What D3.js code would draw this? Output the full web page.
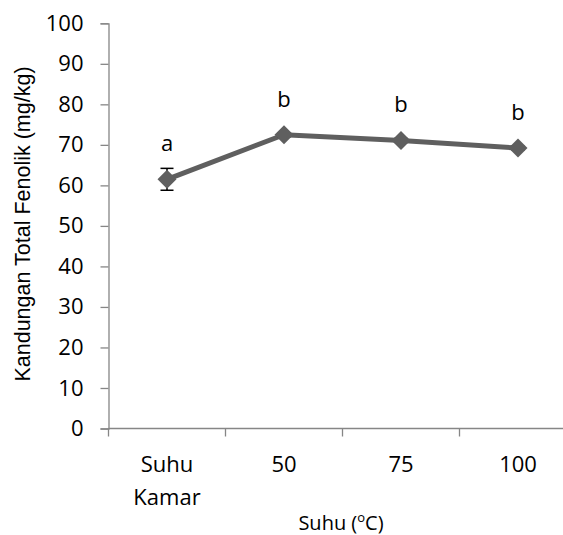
<!DOCTYPE html>
<html>
<head>
<meta charset="utf-8">
<script src="https://cdn.jsdelivr.net/npm/d3@7"></script>
<style>
	body { margin: 0; background: #fff; }
	svg { display: block; }
</style>
</head>
<body>
<svg id="chart" width="563" height="535"></svg>
<script>
const categories = ['Suhu Kamar', '50', '75', '100'];
const values = [61.5, 72.5, 71.1, 69.2];
const errors = [2.7, 0.5, 0.5, 0.5];
const letters = ['a', 'b', 'b', 'b'];
const yTicks = [0, 10, 20, 30, 40, 50, 60, 70, 80, 90, 100];

const svg = d3.select('#chart');
const tickFont = '"Open Sans", sans-serif';

// scales
let x = d3.scaleBand()
	.domain(categories)
	.range([108.5, 576.5]);

let y = d3.scaleLinear()
	.domain([0, 100])
	.range([428.5, 23.3]);

const axisColor = '#868686';
const lineColor = '#5f5f5f';

// Y axis
let yAxis = svg.append('g')
	.attr('transform', 'translate(108.5,0)')
	.call(d3.axisLeft(y).tickValues(yTicks).tickSize(8).tickPadding(17));
yAxis.select('.domain').attr('stroke', axisColor).attr('stroke-width', 1.3);
yAxis.selectAll('.tick line').attr('stroke', axisColor).attr('stroke-width', 1.3);
yAxis.selectAll('.tick text')
	.attr('font-family', tickFont)
	.attr('font-size', 22)
	.attr('fill', '#000');

// X axis, ticks at category boundaries
let boundaries = categories.map(c => x(c));
svg.append('line')
	.attr('x1', 108.5).attr('x2', 576.5)
	.attr('y1', y(0)).attr('y2', y(0))
	.attr('stroke', axisColor).attr('stroke-width', 1.3);
svg.selectAll('.xtick')
	.data(boundaries)
	.enter()
	.append('line')
	.attr('class', 'xtick')
	.attr('x1', d => d).attr('x2', d => d)
	.attr('y1', y(0)).attr('y2', y(0) + 8)
	.attr('stroke', axisColor).attr('stroke-width', 1.3);

// x labels (wrapped)
let xLabels = svg.selectAll('.xlabel')
	.data(categories)
	.enter()
	.append('text')
	.attr('class', 'xlabel')
	.attr('text-anchor', 'middle')
	.attr('font-family', tickFont)
	.attr('font-size', 22)
	.attr('y', 472);
xLabels.each(function(d) {
	let words = d.split(' ');
	let cx = x(d) + x.bandwidth() / 2;
	d3.select(this).selectAll('tspan')
		.data(words)
		.enter()
		.append('tspan')
		.attr('x', cx)
		.attr('dy', (w, i) => i === 0 ? 0 : 33)
		.text(w => w);
});

// line
let line = d3.line()
	.x((d, i) => x(categories[i]) + x.bandwidth() / 2)
	.y(d => y(d));

svg.append('path')
	.datum(values)
	.attr('d', line)
	.attr('fill', 'none')
	.attr('stroke', lineColor)
	.attr('stroke-width', 5)
	.attr('stroke-linejoin', 'round');

// error bars
let eb = svg.selectAll('.err')
	.data(values)
	.enter()
	.append('g')
	.attr('class', 'err');
eb.append('line')
	.attr('x1', (d, i) => x(categories[i]) + x.bandwidth() / 2)
	.attr('x2', (d, i) => x(categories[i]) + x.bandwidth() / 2)
	.attr('y1', (d, i) => y(d + errors[i]))
	.attr('y2', (d, i) => y(d - errors[i]))
	.attr('stroke', '#000').attr('stroke-width', 1.5);
eb.selectAll('.cap')
	.data((d, i) => [d + errors[i], d - errors[i]].map(v => ({v, i})))
	.enter()
	.append('line')
	.attr('x1', d => x(categories[d.i]) + x.bandwidth() / 2 - 6.5)
	.attr('x2', d => x(categories[d.i]) + x.bandwidth() / 2 + 6.5)
	.attr('y1', d => y(d.v))
	.attr('y2', d => y(d.v))
	.attr('stroke', '#000').attr('stroke-width', 1.5);

// markers
svg.selectAll('.marker')
	.data(values)
	.enter()
	.append('path')
	.attr('class', 'marker')
	.attr('d', 'M0,-9.5L9.5,0L0,9.5L-9.5,0Z')
	.attr('transform', (d, i) => `translate(${x(categories[i]) + x.bandwidth() / 2},${y(d)})`)
	.attr('fill', lineColor);

// letters
svg.selectAll('.letter')
	.data(values)
	.enter()
	.append('text')
	.attr('class', 'letter')
	.attr('x', (d, i) => x(categories[i]) + x.bandwidth() / 2)
	.attr('y', d => y(d) - 28)
	.attr('text-anchor', 'middle')
	.attr('font-family', tickFont)
	.attr('font-size', 22)
	.text((d, i) => letters[i]);

// axis titles
svg.append('text')
	.attr('transform', 'translate(30,224) rotate(-90)')
	.attr('text-anchor', 'middle')
	.attr('font-family', '"Liberation Sans", Arial, sans-serif')
	.attr('font-size', 21.5)
	.text('Kandungan Total Fenolik (mg/kg)');

let xt = svg.append('text')
	.attr('x', 341)
	.attr('y', 530)
	.attr('text-anchor', 'middle')
	.attr('font-family', tickFont)
	.attr('font-size', 20)
	.attr('fill', '#000');
xt.append('tspan').text('Suhu (');
xt.append('tspan').attr('font-size', 13).attr('dy', -8).text('o');
xt.append('tspan').attr('dy', 8).text('C)');
</script>
</body>
</html>
